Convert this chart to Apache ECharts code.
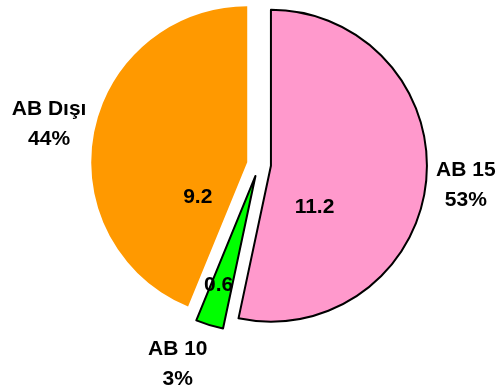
<!DOCTYPE html>
<html>

<head>
    <meta charset="utf-8">
    <title>ECharts</title>
    <script src="https://cdn.jsdelivr.net/npm/echarts@6/dist/echarts.min.js"></script>
</head>

<body style="margin:0">
    <div id="main" style="width: 502px;height:389px;"></div>
    <script type="text/javascript">
        var names = ['AB 15', 'AB 10', 'AB Dışı'];
        var values = [11.2, 0.6, 9.2];
        var percents = ['53%', '3%', '44%'];
        var colors = ['#FF99CC', '#00FF00', '#FF9900'];
        var borders = [2, 2, 0];

        // per-slice nudges for the value labels and the name labels
        var innerOffsets = [[-37, 33], [-13, 32], [30, 51]];
        var outerOffsets = [[-10, -2], [-17, -9], [4, 2]];

        var myChart = echarts.init(document.getElementById('main'));

        var font = {
            fontFamily: 'Liberation Sans, Arial, sans-serif',
            fontWeight: 'bold',
            fontSize: 21,
            color: '#000'
        };

        var pieData = names.map(function (n, i) {
            var style = {
                color: colors[i],
                borderColor: '#000',
                borderWidth: borders[i]
            };
            return {
                name: n,
                value: values[i],
                selected: true,
                itemStyle: style,
                select: { itemStyle: style }
            };
        });

        var labelData = names.map(function (n, i) {
            return {
                name: n,
                value: values[i],
                label: { formatter: n + '\n' + percents[i] }
            };
        });

        function nudge(offsets) {
            return function (p) {
                var o = offsets[p.dataIndex];
                return { dx: o[0], dy: o[1] };
            };
        }

        var option = {
            animation: false,
            series: [{
                type: 'pie',
                center: [259, 164.5],
                radius: [0, 156],
                startAngle: 90,
                clockwise: true,
                selectedMode: 'multiple',
                selectedOffset: 12,
                emphasis: { disabled: true },
                label: Object.assign({
                    show: true,
                    position: 'inside',
                    formatter: '{c}'
                }, font),
                labelLine: { show: false },
                labelLayout: nudge(innerOffsets),
                data: pieData
            }, {
                type: 'pie',
                center: [259, 164.5],
                radius: [200, 230],
                startAngle: 90,
                clockwise: true,
                silent: true,
                emphasis: { disabled: true },
                itemStyle: { color: 'rgba(0,0,0,0)' },
                label: Object.assign({
                    show: true,
                    position: 'inside',
                    lineHeight: 30,
                    align: 'center'
                }, font),
                labelLine: { show: false },
                labelLayout: nudge(outerOffsets),
                data: labelData
            }]
        };

        myChart.setOption(option);
    </script>
</body>

</html>
